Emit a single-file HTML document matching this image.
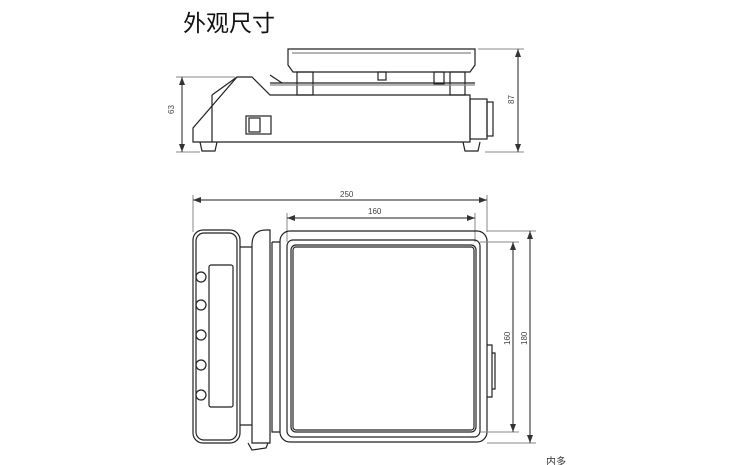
<!DOCTYPE html><html><head><meta charset="utf-8"><style>body{margin:0;background:#fff;width:750px;height:465px;overflow:hidden;position:relative}
.t{position:absolute;left:183px;top:4px;font:23px "Liberation Sans","Noto Sans CJK SC",sans-serif;color:#111}</style></head><body>
<div class="t">外观尺寸</div>
<svg width="750" height="465" style="position:absolute;left:0;top:0" fill="none" stroke="#222" stroke-width="1.2" font-family="Liberation Sans, sans-serif" font-size="8">
<defs><marker id="a" markerWidth="8" markerHeight="6" refX="8" refY="3" orient="auto-start-reverse" markerUnits="userSpaceOnUse"><path d="M0,0 L8,3 L0,6z" fill="#333" stroke="none"/></marker></defs>
<!-- side view -->
<path d="M288,49 L475,49 L475,65 L470,72 L293,72 L288,65 Z"/>
<line x1="292" y1="53" x2="471" y2="53" stroke="#888"/>
<rect x="297" y="72" width="16" height="23"/><rect x="450" y="72" width="15" height="23"/>
<rect x="378" y="72" width="8" height="8"/><rect x="434" y="72" width="10" height="12"/>
<line x1="270" y1="83" x2="475" y2="83"/><line x1="270" y1="85" x2="475" y2="85" stroke="#888"/>
<path d="M270,75 L282,83"/>
<path d="M193,142 L193,128 L237,77 L252,77 L270,95 L470,95 L470,142 Z"/>
<line x1="212" y1="95" x2="212" y2="142"/><line x1="212" y1="95" x2="237" y2="77"/>
<rect x="470" y="99" width="17" height="40"/><rect x="487" y="102" width="6" height="34"/>
<rect x="246" y="116" width="25" height="18"/><rect x="249" y="118" width="11" height="14"/>
<path d="M200,142 L202,151 L215,151 L217,142"/><path d="M463,142 L465,151 L478,151 L480,142"/>
<line x1="176" y1="77" x2="235" y2="77" stroke="#888" stroke-width="1"/><line x1="176" y1="152" x2="200" y2="152" stroke="#888" stroke-width="1"/>
<line x1="182" y1="77" x2="182" y2="152" stroke-width="1" marker-start="url(#a)" marker-end="url(#a)"/>
<line x1="478" y1="49" x2="524" y2="49" stroke="#888" stroke-width="1"/><line x1="485" y1="152" x2="524" y2="152" stroke="#888" stroke-width="1"/>
<line x1="518" y1="49" x2="518" y2="152" stroke-width="1" marker-start="url(#a)" marker-end="url(#a)"/>
<text x="174" y="114" fill="#444" stroke="none" transform="rotate(-90 174 114)">63</text>
<text x="514" y="104" fill="#444" stroke="none" transform="rotate(-90 514 104)">87</text>
<!-- top view -->
<line x1="193" y1="195" x2="193" y2="232" stroke="#888" stroke-width="1"/><line x1="487" y1="195" x2="487" y2="232" stroke="#888" stroke-width="1"/>
<line x1="193" y1="200" x2="487" y2="200" stroke-width="1" marker-start="url(#a)" marker-end="url(#a)"/>
<text x="340" y="197" fill="#444" stroke="none">250</text>
<line x1="287" y1="213" x2="287" y2="242" stroke="#888" stroke-width="1"/><line x1="475" y1="213" x2="475" y2="242" stroke="#888" stroke-width="1"/>
<line x1="287" y1="218" x2="475" y2="218" stroke-width="1" marker-start="url(#a)" marker-end="url(#a)"/>
<text x="368" y="214" fill="#444" stroke="none">160</text>
<rect x="193" y="230" width="47" height="213" rx="10"/><rect x="196" y="233" width="41" height="207" rx="8"/>
<rect x="209" y="265" width="24" height="142" rx="2"/>
<g><circle cx="201" cy="277" r="5"/><circle cx="201" cy="305" r="5"/><circle cx="201" cy="335" r="5"/><circle cx="201" cy="365" r="5"/><circle cx="201" cy="395" r="5"/></g>
<path d="M240,247 L252,247 M240,425 L252,425"/>
<path d="M252,443 L252,245 Q252,230 266,230 L270,230 L270,443 Z"/>
<path d="M248,443 L252,450 L266,448 L268,443"/>
<path d="M272,242 L280,242 M272,242 L272,432 L280,432"/>
<rect x="280" y="231" width="207" height="211" rx="10"/>
<rect x="287" y="240" width="193" height="197" rx="6"/>
<rect x="291" y="245" width="185" height="187" rx="5"/>
<rect x="293" y="247" width="181" height="183" rx="3"/>
<path d="M487,345 L492,345 L492,397 L487,397 M492,353 L495,353 L495,389 L492,389"/>
<line x1="480" y1="242" x2="519" y2="242" stroke="#888" stroke-width="1"/><line x1="480" y1="432" x2="519" y2="432" stroke="#888" stroke-width="1"/>
<line x1="513" y1="242" x2="513" y2="432" stroke-width="1" marker-start="url(#a)" marker-end="url(#a)"/>
<line x1="487" y1="231" x2="536" y2="231" stroke="#888" stroke-width="1"/><line x1="487" y1="443" x2="536" y2="443" stroke="#888" stroke-width="1"/>
<line x1="530" y1="231" x2="530" y2="443" stroke-width="1" marker-start="url(#a)" marker-end="url(#a)"/>
<text x="510" y="345" fill="#444" stroke="none" transform="rotate(-90 510 345)">160</text>
<text x="527" y="345" fill="#444" stroke="none" transform="rotate(-90 527 345)">180</text>
<text x="546" y="465" fill="#333" stroke="none" font-size="10" font-family="Noto Sans CJK SC, sans-serif">内多</text>
</svg></body></html>
